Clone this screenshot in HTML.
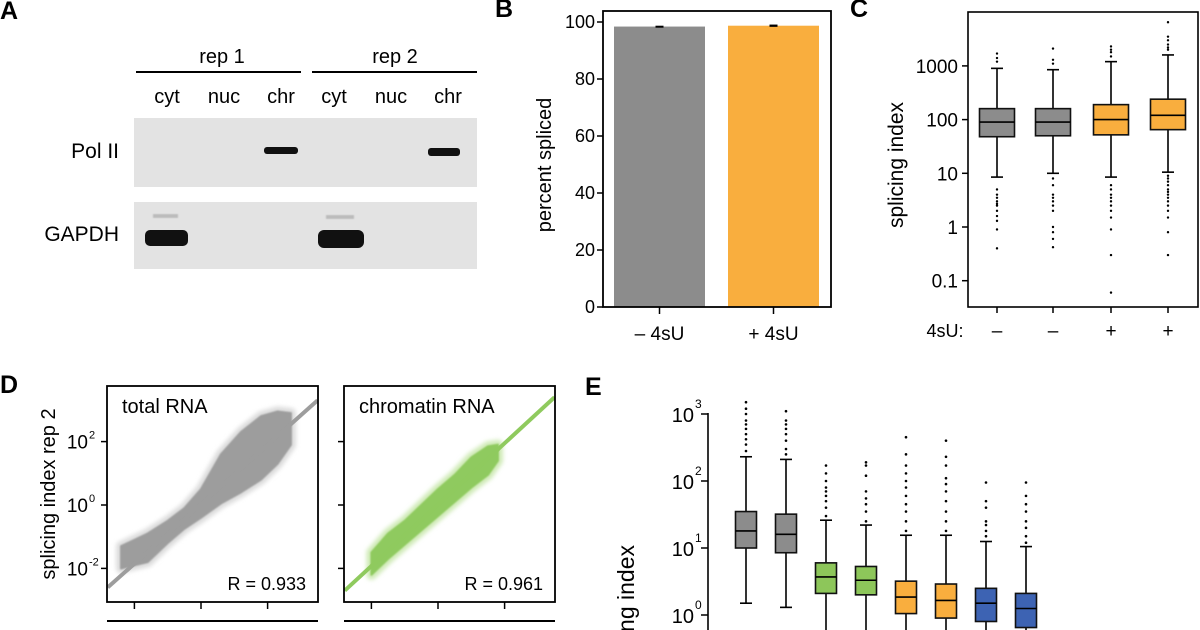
<!DOCTYPE html>
<html><head><meta charset="utf-8"><style>
html,body{margin:0;padding:0;background:#fff;width:1200px;height:630px;overflow:hidden}
svg{display:block;font-family:"Liberation Sans",sans-serif}
</style></head><body>
<svg id="fig" width="1200" height="630" viewBox="0 0 1200 630" xmlns="http://www.w3.org/2000/svg">
<defs><filter id="blur1"><feGaussianBlur stdDeviation="0.8"/></filter><filter id="blur2"><feGaussianBlur stdDeviation="2"/></filter></defs>
<!-- Panel A -->
<g>
<text x="0" y="19" font-size="25" font-weight="bold">A</text>
<text x="222" y="63" font-size="20" text-anchor="middle">rep 1</text>
<text x="395" y="63" font-size="20" text-anchor="middle">rep 2</text>
<line x1="136" y1="72" x2="301" y2="72" stroke="#000" stroke-width="2"/>
<line x1="312" y1="72" x2="477" y2="72" stroke="#000" stroke-width="2"/>
<g font-size="20" text-anchor="middle">
<text x="167" y="103">cyt</text>
<text x="224" y="103">nuc</text>
<text x="281" y="103">chr</text>
<text x="334" y="103">cyt</text>
<text x="391" y="103">nuc</text>
<text x="448" y="103">chr</text>
</g>
<rect x="134" y="118" width="343" height="69" fill="#e3e3e3"/>
<rect x="134" y="202" width="343" height="67" fill="#e3e3e3"/>
<text x="119" y="158" font-size="21" text-anchor="end">Pol II</text>
<text x="119" y="241" font-size="21" text-anchor="end">GAPDH</text>
<rect x="264" y="147" width="34" height="7" rx="3" fill="#111"/>
<rect x="428" y="148" width="32" height="8" rx="3" fill="#111"/>
<rect x="153" y="214" width="25" height="4" fill="#bbb" filter="url(#blur1)"/>
<rect x="326" y="215" width="28" height="4" fill="#bbb" filter="url(#blur1)"/>
<rect x="145" y="230" width="43" height="16" rx="5" fill="#111"/>
<rect x="318" y="230" width="46" height="18" rx="6" fill="#111"/>
</g>
<g id="pb"></g>
<g id="pc"></g>
<g id="pd"></g>
<g id="pe"></g>
</svg>
<script>
// ---------- Panel B data ----------
const bCategories = ["\u2013 4sU", "+ 4sU"];
const bValues = [98.4, 98.7];
const bErrors = [0.3, 0.4];
const bTicks = [0, 20, 40, 60, 80, 100];
// ---------- Panel C data ----------
const cCategories = ["\u2013", "\u2013", "+", "+"];
const cQ1 = [48, 50, 52, 65];
const cMedian = [90, 90, 100, 120];
const cQ3 = [160, 160, 190, 240];
const cWhiskLo = [8.5, 10, 8.5, 10.5];
const cWhiskHi = [900, 850, 1200, 1600];
const cOutliers = [
  [5,4,3.5,3,2.7,2.5,2,1.6,1.3,0.9,0.4,1200,1400,1700],
  [8,6,4,3.5,3,2.5,2,1,0.8,0.6,0.42,1100,1300,2100],
  [6,5,4,3.5,3,2.5,2,1.5,0.9,0.3,0.06,1500,1800,2000,2300],
  [9,8,7,6,5,4.5,4,3.5,3,2.5,2,1.5,0.8,0.3,2000,2200,2500,3000,3500,6500]
];
const cTickValues = [0.1, 1, 10, 100, 1000];
const cTickLabels = ["0.1", "1", "10", "100", "1000"];
// ---------- Panel D data (log10 space) ----------
const dTotalX = [-2.4,-1.6,-1.0,-0.5,0,0.6,1.2,1.8,2.3,2.7];
const dTotalLo = [-2.0,-1.8,-1.2,-0.75,-0.4,0.05,0.4,0.8,1.3,1.9];
const dTotalHi = [-1.3,-0.9,-0.5,-0.1,0.5,1.6,2.3,2.8,2.95,2.9];
const dChromX = [-2.0,-1.5,-1.0,-0.5,0,0.5,1.0,1.5,1.8];
const dChromLo = [-2.2,-1.7,-1.25,-0.8,-0.35,0.1,0.55,0.95,1.4];
const dChromHi = [-1.5,-0.9,-0.5,0,0.5,0.95,1.5,1.85,1.9];
const dTotalFit = [[-2.8,-2.6],[3.5,3.3]];
const dChromFit = [[-2.8,-2.7],[3.5,3.4]];
const dR = ["R = 0.933", "R = 0.961"];
const dTickExp = [-2, 0, 2];
// ---------- Panel E data ----------
const eColors = ["#8c8c8c","#8c8c8c","#8dc65a","#8dc65a","#f9ae3e","#f9ae3e","#3d63b3","#3d63b3"];
const eQ1 = [10, 8.5, 2.1, 2.0, 1.05, 0.9, 0.8, 0.65];
const eMedian = [18, 16, 3.7, 3.3, 1.85, 1.65, 1.5, 1.25];
const eQ3 = [35, 32, 6, 5.3, 3.2, 2.9, 2.5, 2.1];
const eWhiskHi = [230, 210, 26, 22, 15.5, 15.5, 12.5, 10.5];
const eWhiskLo = [1.5, 1.3, 0.2, 0.2, 0.2, 0.2, 0.2, 0.2];
const eOutliers = [
  [280,350,420,500,600,700,800,1000,1200,1500],
  [250,300,400,500,600,700,800,1100],
  [30,40,50,60,70,80,100,130,170],
  [25,35,45,55,70,120,170,190],
  [18,25,35,45,60,80,100,130,170,250,450],
  [18,25,35,50,70,90,110,170,230,400],
  [15,18,22,25,40,50,95],
  [12,15,20,25,35,45,60,95]
];
const eTickExp = [0, 1, 2, 3];

const NS = "http://www.w3.org/2000/svg";
function mk(tag, attrs, parent){const e=document.createElementNS(NS,tag);for(const k in attrs)e.setAttribute(k,attrs[k]);parent.appendChild(e);return e;}

// ===== Panel B =====
(function(){
 const g=document.getElementById('pb');
 const y=v=>307-v*2.85;
 const bx=[614,728], bw=91;
 let t=mk('text',{x:495,y:17,'font-size':25,'font-weight':'bold'},g); t.textContent='B';
 
 
 bValues.forEach((v,i)=>{
  const r=mk('rect',{x:bx[i],y:y(v),width:bw,height:y(0)-y(v),fill:i?'#f9ae3e':'#8c8c8c'},g);
  
  
  const e=mk('rect',{x:bx[i]+bw/2-4,y:y(v+bErrors[i]),width:8,height:Math.max(2,y(v-bErrors[i])-y(v+bErrors[i])),fill:'#000'},g);
  
  
  const tk=mk('line',{x1:bx[i]+bw/2,x2:bx[i]+bw/2,y1:307,y2:314,stroke:'#000','stroke-width':1.5},g);
  
  
  const l=mk('text',{x:bx[i]+bw/2,y:340,'font-size':19,'text-anchor':'middle'},g); l.textContent=bCategories[i];
  
  
 });
 const f=mk('rect',{x:603,y:11,width:228,height:296,fill:'none',stroke:'#000','stroke-width':1.8},g);
 
 
 bTicks.forEach(v=>{
  const tk=mk('line',{x1:597,x2:603,y1:y(v),y2:y(v),stroke:'#000','stroke-width':1.5},g);
  
  
  const l=mk('text',{x:595,y:y(v)+6,'font-size':18,'text-anchor':'end'},g); l.textContent=v;
  
  
 });
 const yl=mk('text',{transform:'translate(551,165) rotate(-90)','font-size':20,'text-anchor':'middle'},g); yl.textContent='percent spliced';
 
 
})();

// ===== Panel C =====
(function(){
 const g=document.getElementById('pc');
 const y=v=>227-53.7*Math.log10(v);
 const cx=[997,1053,1111,1168], bw=35;
 let t=mk('text',{x:850,y:17,'font-size':25,'font-weight':'bold'},g); t.textContent='C';
 
 
 cQ1.forEach((q,i)=>{
  const col=i<2?'#8c8c8c':'#f9ae3e';
  const w=mk('line',{x1:cx[i],x2:cx[i],y1:y(cWhiskLo[i]),y2:y(cWhiskHi[i]),stroke:'#000','stroke-width':1.6},g);
  
  
  [cWhiskLo[i],cWhiskHi[i]].forEach(v=>{const c=mk('line',{x1:cx[i]-6,x2:cx[i]+6,y1:y(v),y2:y(v),stroke:'#000','stroke-width':1.6},g);
   
   });
  const b=mk('rect',{x:cx[i]-bw/2,y:y(cQ3[i]),width:bw,height:y(q)-y(cQ3[i]),fill:col,stroke:'#111','stroke-width':1.6},g);
  
  
  const m=mk('line',{x1:cx[i]-bw/2,x2:cx[i]+bw/2,y1:y(cMedian[i]),y2:y(cMedian[i]),stroke:'#000','stroke-width':1.6},g);
  
  
  cOutliers[i].forEach(v=>{const d=mk('circle',{cx:cx[i],cy:y(v),r:1.2,fill:'#000'},g);
   
   });
  const tk=mk('line',{x1:cx[i],x2:cx[i],y1:307,y2:313,stroke:'#000','stroke-width':1.5},g);
  
  
  const l=mk('text',{x:cx[i],y:337,'font-size':19,'text-anchor':'middle'},g); l.textContent=cCategories[i];
  
  
 });
 const f=mk('rect',{x:968,y:12,width:230,height:295,fill:'none',stroke:'#000','stroke-width':1.6},g);
 
 
 cTickValues.forEach((v,i)=>{
  const tk=mk('line',{x1:962,x2:968,y1:y(v),y2:y(v),stroke:'#000','stroke-width':1.5},g);
  
  
  const l=mk('text',{x:958,y:y(v)+7,'font-size':19,'text-anchor':'end'},g); l.textContent=cTickLabels[i];
  
  
 });
 const xl=mk('text',{x:945,y:337,'font-size':18,'text-anchor':'middle'},g); xl.textContent='4sU:';
 
 
 const yl=mk('text',{transform:'translate(903,165) rotate(-90)','font-size':21,'text-anchor':'middle'},g); yl.textContent='splicing index';
 
 
})();

// ===== Panel D =====
(function(){
 const g=document.getElementById('pd');
 const py=v=>505-31.7*v;
 let t=mk('text',{x:0,y:393,'font-size':25,'font-weight':'bold'},g); t.textContent='D';
 
 
 const plots=[{x0:107,x1:318,c0:201,X:dTotalX,L:dTotalLo,H:dTotalHi,fit:dTotalFit,col:'#9d9d9d',light:'#dcdcdc',title:'total RNA',name:'total-rna'},
              {x0:344,x1:555,c0:438,X:dChromX,L:dChromLo,H:dChromHi,fit:dChromFit,col:'#8fca5e',light:'#cfeab6',title:'chromatin RNA',name:'chromatin-rna'}];
 plots.forEach((p,pi)=>{
  const px=v=>p.c0+33.3*v;
  const clipId='clip'+pi;
  const cp=mk('clipPath',{id:clipId},g); mk('rect',{x:p.x0,y:386,width:p.x1-p.x0,height:216},cp);
  const cg=mk('g',{'clip-path':'url(#'+clipId+')'},g);
  
  
  let top=p.X.map((x,i)=>px(x)+','+py(p.H[i])).join(' ');
  let bot=p.X.map((x,i)=>px(x)+','+py(p.L[i])).reverse().join(' ');
  const halo=mk('polygon',{points:top+' '+bot,fill:p.light,stroke:p.light,'stroke-width':10,'stroke-linejoin':'round',filter:'url(#blur2)'},cg);
  
  
  const core=mk('polygon',{points:top+' '+bot,fill:p.col,stroke:p.col,'stroke-width':2,'stroke-linejoin':'round',filter:'url(#blur1)'},cg);
  
  
  const fl=mk('line',{x1:px(p.fit[0][0]),y1:py(p.fit[0][1]),x2:px(p.fit[1][0]),y2:py(p.fit[1][1]),stroke:p.col,'stroke-width':4},cg);
  
  
  const f=mk('rect',{x:p.x0,y:386,width:p.x1-p.x0,height:216,fill:'none',stroke:'#000','stroke-width':1.8},g);
  
  
  const tt=mk('text',{x:p.x0+15,y:413,'font-size':20},g); tt.textContent=p.title;
  
  
  const rr=mk('text',{x:p.x1-12,y:590,'font-size':18,'text-anchor':'end'},g); rr.textContent=dR[pi];
  
  
  dTickExp.forEach(e=>{
   const tx=mk('line',{x1:px(e),x2:px(e),y1:602,y2:609,stroke:'#000','stroke-width':1.5},g);
   
   
   const ty=mk('line',{x1:p.x0-6,x2:p.x0,y1:py(e),y2:py(e),stroke:'#000','stroke-width':1.5},g);
   
   
   if(pi===0){
    const l=mk('text',{x:88,y:py(e)+7,'font-size':19,'text-anchor':'end'},g); l.textContent='10';
    
    
    const s=mk('text',{x:89,y:py(e)-3,'font-size':11},g); s.textContent=String(e);
    
    
   }
  });
  const bl=mk('line',{x1:p.x0,x2:p.x1,y1:621,y2:621,stroke:'#000','stroke-width':2},g);
  
  
 });
 const yl=mk('text',{transform:'translate(55,494) rotate(-90)','font-size':20,'text-anchor':'middle'},g); yl.textContent='splicing index rep 2';
 
 
})();

// ===== Panel E =====
(function(){
 const g=document.getElementById('pe');
 const y=v=>615-67*Math.log10(v);
 let t=mk('text',{x:585,y:395,'font-size':25,'font-weight':'bold'},g); t.textContent='E';
 
 
 const ax=mk('line',{x1:708,x2:708,y1:413,y2:630,stroke:'#000','stroke-width':1.6},g);
 
 
 eTickExp.forEach(e=>{
  const tk=mk('line',{x1:701,x2:708,y1:y(Math.pow(10,e)),y2:y(Math.pow(10,e)),stroke:'#000','stroke-width':1.5},g);
  
  
  const l=mk('text',{x:694,y:y(Math.pow(10,e))+8,'font-size':20,'text-anchor':'end'},g); l.textContent='10';
  
  
  const s=mk('text',{x:695,y:y(Math.pow(10,e))-6,'font-size':12},g); s.textContent=String(e);
  
  
 });
 const bw=21;
 eQ1.forEach((q,i)=>{
  const cx=746+40*i;
  const w=mk('line',{x1:cx,x2:cx,y1:y(eWhiskLo[i]),y2:y(eWhiskHi[i]),stroke:'#000','stroke-width':1.6},g);
  
  
  [eWhiskLo[i],eWhiskHi[i]].forEach(v=>{const c=mk('line',{x1:cx-6,x2:cx+6,y1:y(v),y2:y(v),stroke:'#000','stroke-width':1.6},g);
   
   });
  const b=mk('rect',{x:cx-bw/2,y:y(eQ3[i]),width:bw,height:y(q)-y(eQ3[i]),fill:eColors[i],stroke:'#111','stroke-width':1.6},g);
  
  
  const m=mk('line',{x1:cx-bw/2,x2:cx+bw/2,y1:y(eMedian[i]),y2:y(eMedian[i]),stroke:'#000','stroke-width':1.6},g);
  
  
  eOutliers[i].forEach(v=>{const d=mk('circle',{cx:cx,cy:y(v),r:1.3,fill:'#000'},g);
   
   });
 });
 const yl=mk('text',{transform:'translate(634,545) rotate(-90)','font-size':23,'text-anchor':'end'},g); yl.textContent='splicing index';
 
 
})();
</script>
</body></html>
